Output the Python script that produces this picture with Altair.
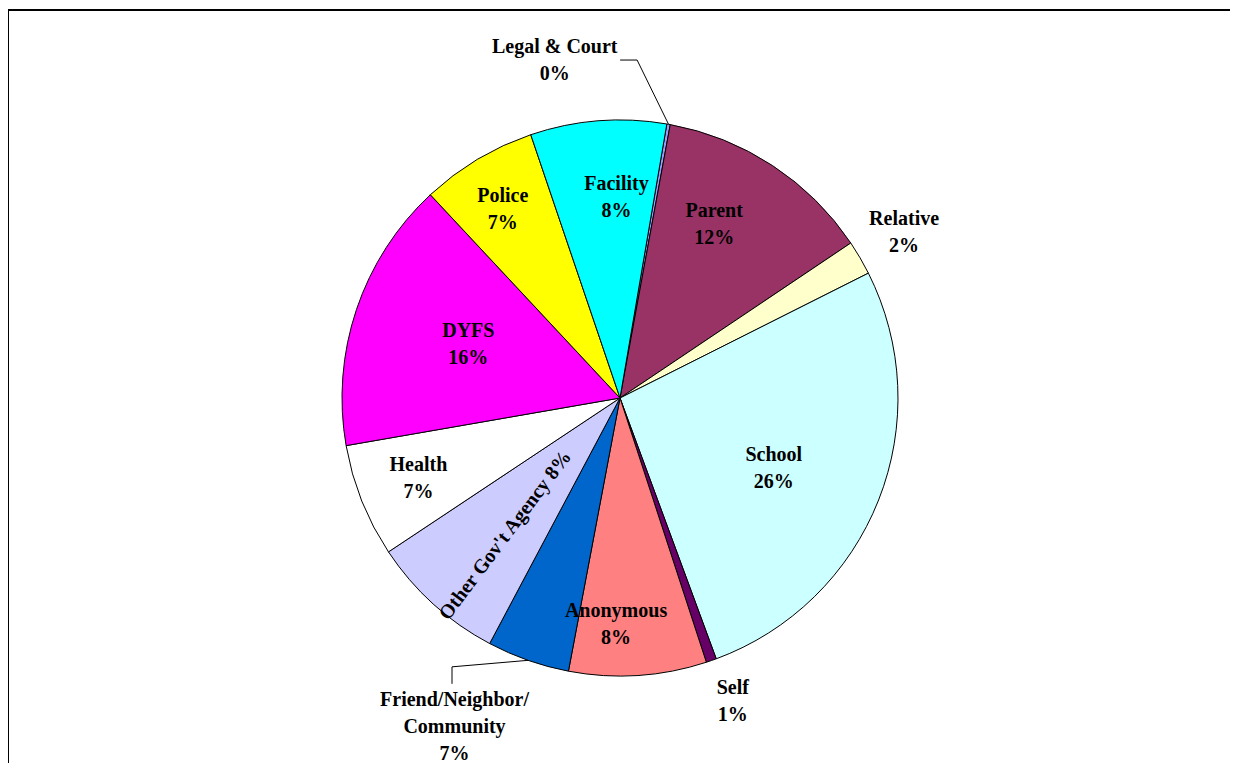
import math
import altair as alt
import pandas as pd

# ---- data ----
categories = ["Legal & Court", "Parent", "Relative", "School", "Self", "Anonymous",
              "Friend/Neighbor/Community", "Other Gov't Agency", "Health", "DYFS",
              "Police", "Facility"]
values = [0.2, 12.7, 2.0, 26.8, 0.6, 8.0, 4.8, 7.9, 6.6, 15.8, 6.75, 7.9]
label_text = ["Legal & Court\n0%", "Parent\n12%", "Relative\n2%", "School\n26%",
              "Self\n1%", "Anonymous\n8%", "Friend/Neighbor/\nCommunity\n7%",
              "Other Gov't Agency 8%", "Health\n7%", "DYFS\n16%", "Police\n7%",
              "Facility\n8%"]
colors = ["#9999FF", "#993366", "#FFFFCC", "#CCFFFF", "#660066", "#FF8080",
          "#0066CC", "#CCCCFF", "#FFFFFF", "#FF00FF", "#FFFF00", "#00FFFF"]

# ---- layout (not data) ----
W, H = 1222, 755
CX, CY, R = 612, 390, 278
START_DEG = 9.7
LINE_H = 27
label_adj = [-21, -4.7, 0, 3, -1.2, 4.7, 7.4, -2.3, 0, 1, -1, 3.5]
label_r = [344, 197, 329, 169, 324, 227, 368, 179, 217, 161, 222, 201]
label_rot = [0, 0, 0, 0, 0, 0, 0, 307, 0, 0, 0, 0]

total = sum(values)
mids = []
acc = 0.0
for v in values:
    mids.append(START_DEG + (acc + v / 2) / total * 360)
    acc += v


def polar(a_deg, r):
    a = math.radians(a_deg)
    return CX + r * math.sin(a), CY - r * math.cos(a)


# label anchor: the first line sits at the anchor, so lift multi-line blocks
lab_theta, lab_rad = [], []
for m, a, r, t in zip(mids, label_adj, label_r, label_text):
    bx, by = polar(m + a, r)
    n = t.count("\n") + 1
    by -= (n - 1) * LINE_H / 2
    dx, dy = bx - CX, by - CY
    lab_theta.append(math.atan2(dx, -dy))
    lab_rad.append(math.hypot(dx, dy))

df = pd.DataFrame({
    "category": categories,
    "value": values,
    "idx": list(range(len(categories))),
    "label": label_text,
    "lab_theta": lab_theta,
    "lab_r": lab_rad,
    "rot": label_rot,
})

# leader lines: arc edge -> elbow -> end near label
leaders = []
for cat, elbow_a, elbow_r, ddx, ddy in [("Legal & Court", 2.9, 338.4, -17, 0),
                                        ("Friend/Neighbor/Community", 212, 317, 0, 17)]:
    i = categories.index(cat)
    sx, sy = polar(mids[i], R)
    ex, ey = polar(elbow_a, elbow_r)
    leaders.append({"x": sx, "y": sy, "x2": ex, "y2": ey})
    leaders.append({"x": ex, "y": ey, "x2": ex + ddx, "y2": ey + ddy})
lead_df = pd.DataFrame(leaders)

base = alt.Chart(df)

pie = base.mark_arc(radius=R, stroke="black", strokeWidth=1).encode(
    theta=alt.Theta("value:Q", stack=True,
                    scale=alt.Scale(domain=[0, total],
                                    range=[math.radians(START_DEG),
                                           math.radians(START_DEG) + 2 * math.pi])),
    color=alt.Color("category:N", scale=alt.Scale(domain=categories, range=colors),
                    legend=None),
    order=alt.Order("idx:Q"),
    x=alt.value(CX),
    y=alt.value(CY),
)

labels = base.mark_text(font="Liberation Serif", fontWeight="bold", fontSize=20,
                        lineHeight=LINE_H, lineBreak="\n", align="center",
                        baseline="middle", color="black").encode(
    theta=alt.Theta("lab_theta:Q", scale=None),
    radius=alt.Radius("lab_r:Q", scale=None),
    text="label:N",
    angle=alt.Angle("rot:Q", scale=None),
    x=alt.value(CX),
    y=alt.value(CY),
)

lead = alt.Chart(lead_df).mark_rule(color="black", strokeWidth=1).encode(
    x=alt.X("x:Q", scale=None),
    y=alt.Y("y:Q", scale=None),
    x2="x2:Q",
    y2="y2:Q",
)

frame_data = alt.Data(values=[{"a": 1}])
top_line = alt.Chart(frame_data).mark_rule(color="black", strokeWidth=2).encode(
    x=alt.value(0), x2=alt.value(W), y=alt.value(2))
left_line = alt.Chart(frame_data).mark_rule(color="black", strokeWidth=2).encode(
    x=alt.value(0), y=alt.value(2), y2=alt.value(H))

chart = alt.layer(pie, lead, labels, top_line, left_line).properties(
    width=W, height=H, padding=0, autosize=alt.AutoSizeParams(type="none")
).configure_view(stroke=None)

chart.save("out.html", embed_options={"renderer": "svg", "actions": False})
